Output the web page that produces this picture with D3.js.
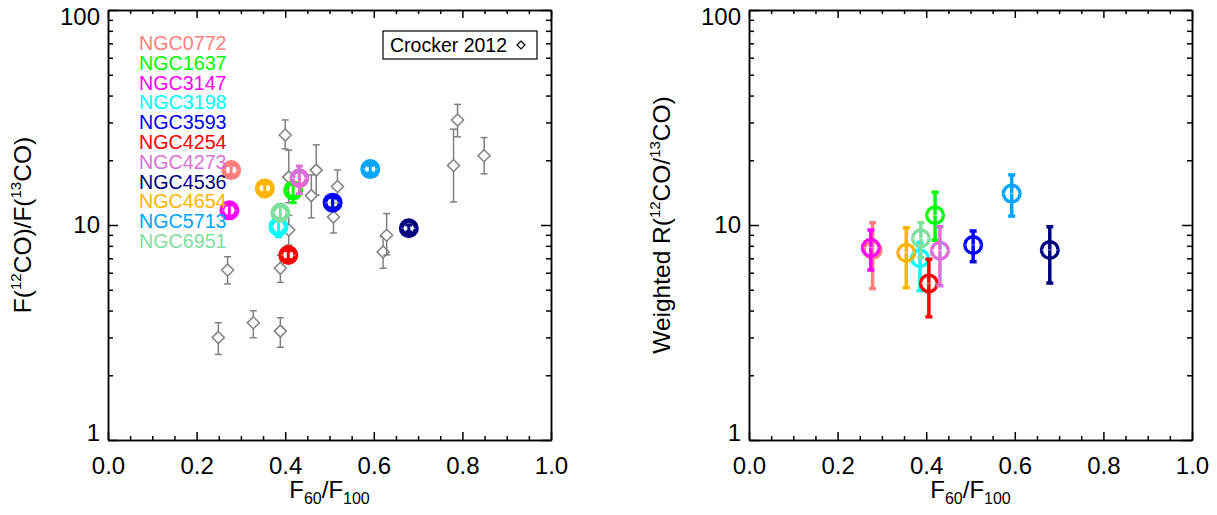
<!DOCTYPE html>
<html>
<head>
<meta charset="utf-8">
<script src="https://cdn.jsdelivr.net/npm/d3@7.9.0/dist/d3.min.js"></script>
<style>
  body { margin: 0; background: #fff; }
  svg { font-family: "Liberation Sans", Arial, Helvetica, sans-serif; }
  .axis path, .axis line { stroke: #000; stroke-width: 1.5; }
  .axis text { font-size: 24px; fill: #000; }
</style>
</head>
<body>
<svg id="chart" width="1217" height="515"></svg>
<script>
// galaxies and their colours (legend order = draw order)
const galaxies = ['NGC0772', 'NGC1637', 'NGC3147', 'NGC3198', 'NGC3593', 'NGC4254',
                  'NGC4273', 'NGC4536', 'NGC4654', 'NGC5713', 'NGC6951'];
const galaxyColors = ['#ff7f7f', '#00ff00', '#ff00ff', '#00ffff', '#0000ff', '#ff0000',
                      '#da70d6', '#00007f', '#ffb400', '#00a5ff', '#7fdf9f'];

// left panel: integrated flux ratio
const leftX  = [0.278, 0.418, 0.274, 0.385, 0.507, 0.407, 0.432, 0.679, 0.354, 0.592, 0.389];
const leftY  = [18.0, 14.5, 11.7, 9.82, 12.7, 7.25, 16.5, 9.66, 14.8, 18.2, 11.4];
const leftLo = [17.2, 12.7, 11.0, 8.82, 12.0, 6.9, 14.0, 9.3, 14.2, 17.5, 10.4];
const leftHi = [18.9, 15.5, 12.4, 10.5, 13.4, 7.6, 18.8, 10.0, 15.5, 18.9, 12.5];

// right panel: weighted line ratio
const rightX  = [0.279, 0.420, 0.275, 0.386, 0.506, 0.406, 0.431, 0.679, 0.355, 0.593, 0.388];
const rightY  = [7.65, 11.1, 7.84, 7.0, 8.07, 5.35, 7.6, 7.65, 7.43, 14.0, 8.67];
const rightLo = [5.06, 8.5, 6.18, 4.95, 6.75, 3.74, 5.22, 5.37, 5.11, 11.0, 7.05];
const rightHi = [10.25, 14.2, 9.48, 8.3, 9.38, 6.93, 9.82, 9.82, 9.71, 17.1, 10.25];

// Crocker 2012 comparison sample
const crockerX  = [0.400, 0.408, 0.470, 0.459, 0.518, 0.509, 0.408, 0.389, 0.270,
                   0.328, 0.249, 0.389, 0.621, 0.629, 0.789, 0.780, 0.849];
const crockerY  = [26.2, 16.7, 18.0, 13.7, 15.1, 10.9, 9.48, 6.29, 6.18,
                   3.51, 3.00, 3.21, 7.49, 8.96, 30.8, 18.9, 21.0];
const crockerLo = [22.6, 12.7, 13.8, 10.8, 13.1, 9.18, 8.07, 5.41, 5.32,
                   2.99, 2.50, 2.70, 6.29, 7.25, 25.7, 12.8, 17.3];
const crockerHi = [30.8, 22.3, 23.6, 17.1, 18.0, 12.7, 11.1, 7.25, 7.12,
                   3.99, 3.51, 3.70, 8.82, 11.3, 36.4, 27.9, 25.5];

const xMajor = [0, 0.2, 0.4, 0.6, 0.8, 1.0];
const xMinor = [0.05, 0.1, 0.15, 0.25, 0.3, 0.35, 0.45, 0.5, 0.55, 0.65, 0.7, 0.75, 0.85, 0.9, 0.95];
const yMajor = [1, 10, 100];
const yMinor = [2, 3, 4, 5, 6, 7, 8, 9, 20, 30, 40, 50, 60, 70, 80, 90];

const svg = d3.select('#chart');
const plotTop = 10, plotBottom = 440, plotWidth = 443;

function makePanel(x0) {
  const x = d3.scaleLinear().domain([0, 1]).range([x0, x0 + plotWidth]);
  const y = d3.scaleLog().domain([1, 100]).range([plotBottom, plotTop]);
  const g = svg.append('g');

  // bottom axis with labels
  g.append('g').attr('class', 'axis').attr('transform', `translate(0,${plotBottom})`)
    .call(d3.axisBottom(x).tickValues(xMajor).tickSizeInner(-8).tickSizeOuter(0)
      .tickPadding(17).tickFormat(d3.format('.1f')));
  g.append('g').attr('class', 'axis').attr('transform', `translate(0,${plotBottom})`)
    .call(d3.axisBottom(x).tickValues(xMinor).tickSizeInner(-4).tickSizeOuter(0).tickFormat(''));
  // top axis
  g.append('g').attr('class', 'axis').attr('transform', `translate(0,${plotTop})`)
    .call(d3.axisTop(x).tickValues(xMajor).tickSizeInner(-8).tickSizeOuter(0).tickFormat(''));
  g.append('g').attr('class', 'axis').attr('transform', `translate(0,${plotTop})`)
    .call(d3.axisTop(x).tickValues(xMinor).tickSizeInner(-4).tickSizeOuter(0).tickFormat(''));
  // left axis with labels
  const ly = g.append('g').attr('class', 'axis').attr('transform', `translate(${x0},0)`)
    .call(d3.axisLeft(y).tickValues(yMajor).tickSizeInner(-10).tickSizeOuter(0)
      .tickPadding(8).tickFormat(d3.format('d')));
  // IDL keeps the end labels inside the axis span
  ly.selectAll('.tick text').attr('y', d => {
    const p = y(d);
    return Math.min(Math.max(p, plotTop + 7), plotBottom - 7) - p;
  });
  g.append('g').attr('class', 'axis').attr('transform', `translate(${x0},0)`)
    .call(d3.axisLeft(y).tickValues(yMinor).tickSizeInner(-5).tickSizeOuter(0).tickFormat(''));
  // right axis
  g.append('g').attr('class', 'axis').attr('transform', `translate(${x0 + plotWidth},0)`)
    .call(d3.axisRight(y).tickValues(yMajor).tickSizeInner(-10).tickSizeOuter(0).tickFormat(''));
  g.append('g').attr('class', 'axis').attr('transform', `translate(${x0 + plotWidth},0)`)
    .call(d3.axisRight(y).tickValues(yMinor).tickSizeInner(-5).tickSizeOuter(0).tickFormat(''));

  // x title F60/F100
  const xt = g.append('text').attr('x', x0 + plotWidth / 2).attr('y', 498)
    .attr('text-anchor', 'middle').attr('font-size', 24);
  xt.append('tspan').text('F');
  xt.append('tspan').attr('font-size', 16).attr('dy', 6).text('60');
  xt.append('tspan').attr('dy', -6).text('/F');
  xt.append('tspan').attr('font-size', 16).attr('dy', 6).text('100');

  return { g, x, y };
}

// rotated y title with superscripts; parts = [text, isSuperscript]
function yTitle(cx, parts) {
  const t = svg.append('text')
    .attr('transform', `translate(${cx},225) rotate(-90)`)
    .attr('text-anchor', 'middle').attr('font-size', 24.5);
  let prevSup = false;
  parts.forEach(([s, sup]) => {
    const dy = sup ? -10 : (prevSup ? 10 : 0);
    const ts = t.append('tspan').attr('dy', dy).text(s);
    if (sup) ts.attr('font-size', 15);
    prevSup = !!sup;
  });
}

function errBar(g, x, lo, hi, color, lw, cap) {
  g.append('line').attr('x1', x).attr('x2', x).attr('y1', lo).attr('y2', hi)
    .attr('stroke', color).attr('stroke-width', lw);
  [lo, hi].forEach(v => {
    g.append('line').attr('x1', x - cap / 2).attr('x2', x + cap / 2).attr('y1', v).attr('y2', v)
      .attr('stroke', color).attr('stroke-width', lw);
  });
}

function ringPoint(g, cx, cy, color, r, sw) {
  g.append('circle').attr('cx', cx).attr('cy', cy).attr('r', r)
    .attr('fill', 'none').attr('stroke', color).attr('stroke-width', sw);
  g.append('line').attr('x1', cx - r).attr('x2', cx + r).attr('y1', cy).attr('y2', cy)
    .attr('stroke', '#fff').attr('stroke-opacity', 0.5).attr('stroke-width', 1);
}

// ---- left panel ----
const L = makePanel(108);
yTitle(31, [['F('], ['12', true], ['CO)/F('], ['13', true], ['CO)']]);

// Crocker 2012 (grey diamonds)
crockerX.forEach((v, i) => {
  const cx = L.x(v), cy = L.y(crockerY[i]);
  errBar(L.g, cx, L.y(crockerLo[i]), L.y(crockerHi[i]), '#808080', 1.5, 7);
  const s = 6;
  L.g.append('path')
    .attr('d', `M${cx},${cy - s}L${cx + s},${cy}L${cx},${cy + s}L${cx - s},${cy}Z`)
    .attr('fill', '#fff').attr('stroke', '#808080').attr('stroke-width', 1.5);
});

galaxies.forEach((name, i) => {
  const cx = L.x(leftX[i]), cy = L.y(leftY[i]);
  ringPoint(L.g, cx, cy, galaxyColors[i], 7.5, 5);
  errBar(L.g, cx, L.y(leftLo[i]), L.y(leftHi[i]), galaxyColors[i], 3, 7);
});

// legend of galaxy names
galaxies.forEach((name, i) => {
  svg.append('text').attr('x', 139).attr('y', 50 + i * 19.8)
    .attr('font-size', 19.7).attr('fill', galaxyColors[i]).text(name);
});

// Crocker 2012 legend box
svg.append('rect').attr('x', 383).attr('y', 31).attr('width', 154).attr('height', 28)
  .attr('fill', '#fff').attr('stroke', '#000').attr('stroke-width', 1.2);
svg.append('text').attr('x', 390).attr('y', 52).attr('font-size', 19.5).text('Crocker 2012');
svg.append('path').attr('d', 'M521,41L525,45L521,49L517,45Z')
  .attr('fill', 'none').attr('stroke', '#000').attr('stroke-width', 1.2);

// ---- right panel ----
const R = makePanel(749);
yTitle(670, [['Weighted R('], ['12', true], ['CO/'], ['13', true], ['CO)']]);

galaxies.forEach((name, i) => {
  const cx = R.x(rightX[i]), cy = R.y(rightY[i]);
  errBar(R.g, cx, R.y(rightLo[i]), R.y(rightHi[i]), galaxyColors[i], 3.5, 7);
  ringPoint(R.g, cx, cy, galaxyColors[i], 8.3, 3.4);
});
</script>
</body>
</html>
